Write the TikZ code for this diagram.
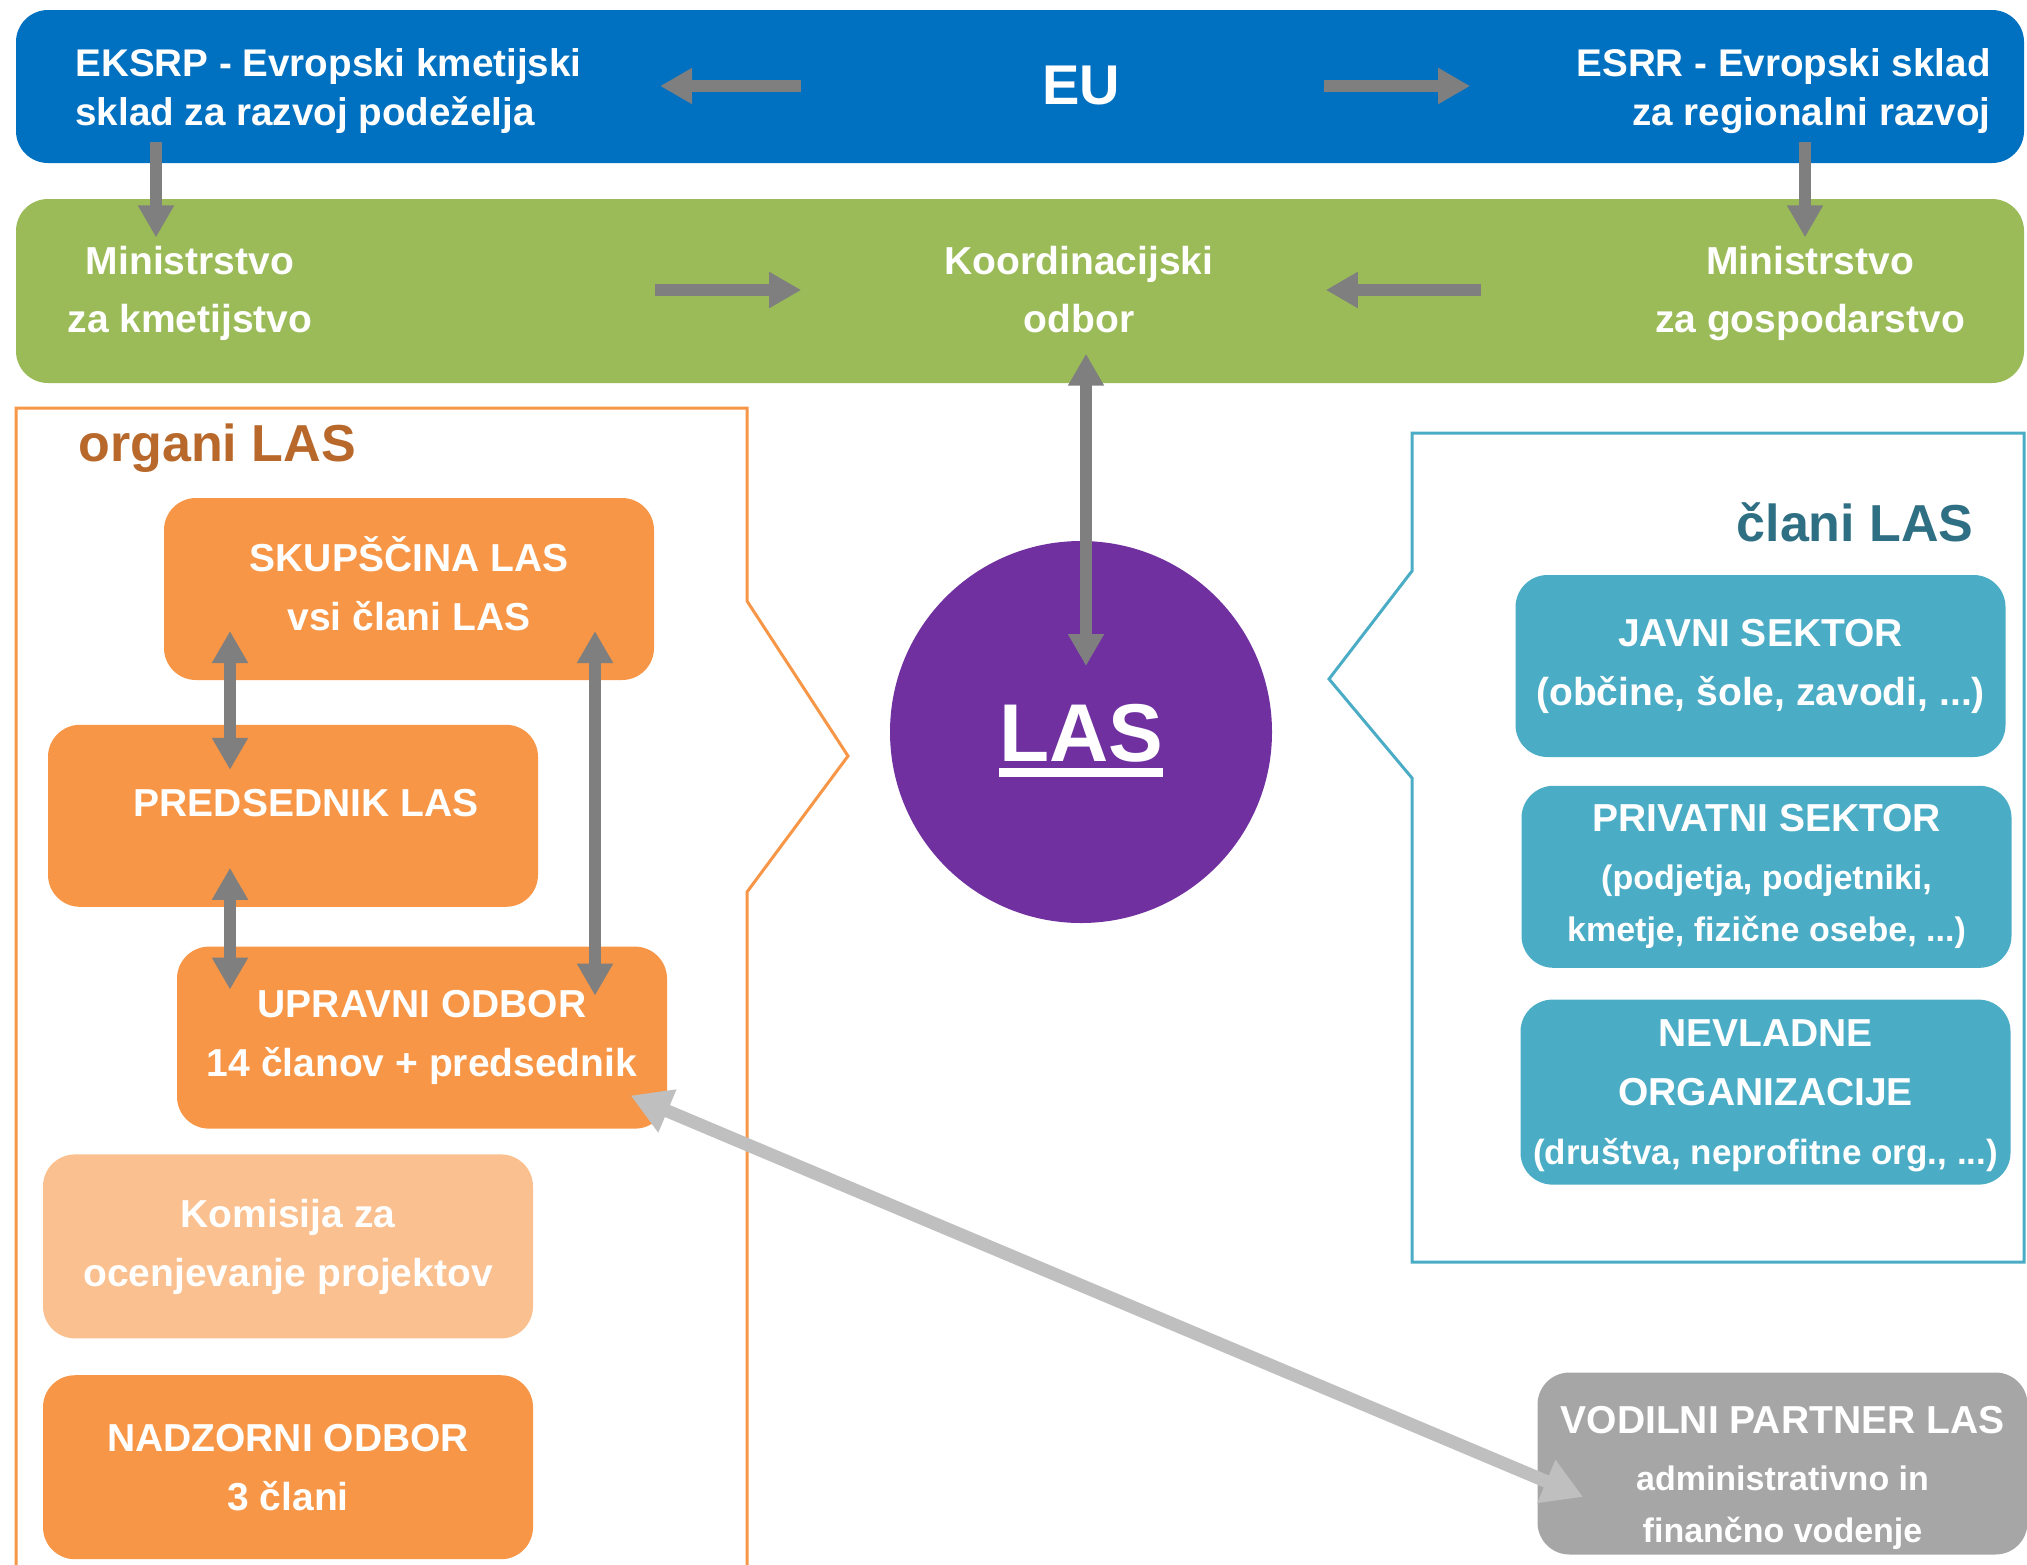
\documentclass[tikz,border=0pt]{standalone}
\usepackage{fontspec}
\setmainfont{Liberation Sans}
\usetikzlibrary{positioning, arrows.meta}
\definecolor{lasblue}{HTML}{0070C0}
\definecolor{lasgreen}{HTML}{9BBB59}
\definecolor{lasorange}{HTML}{F79646}
\definecolor{laspeach}{HTML}{FAC08F}
\definecolor{laspurple}{HTML}{7030A0}
\definecolor{lasteal}{HTML}{4BACC6}
\definecolor{lasgray}{HTML}{A6A6A6}
\definecolor{arrowgray}{HTML}{7F7F7F}
\definecolor{palegray}{HTML}{BFBFBF}
\definecolor{organcol}{HTML}{B8682A}
\definecolor{clanicol}{HTML}{2F6F84}
\tikzset{
  >={Triangle[width=17pt,length=16pt]}, % wide flat heads, as block arrows
  bar/.style={rounded corners=16pt, minimum width=1004pt, inner sep=0pt}, % the two wide bands on top
  bartext/.style={text=white, inner sep=0pt, font=\fontsize{19.5}{29}\selectfont\bfseries},
  organ/.style={fill=lasorange, rounded corners=16pt, minimum width=245pt, minimum height=91pt,
    inner sep=0pt, text=white, align=center, font=\fontsize{19.5}{29.5}\selectfont\bfseries},
  member/.style={organ, fill=lasteal}, % boxes of the members
  flow/.style={->, line width=6pt, draw=arrowgray},
  twoway/.style={<->, line width=6pt, draw=arrowgray},
  frame/.style={line width=1.5pt, line join=miter},
}

\begin{document}
\begin{tikzpicture}[x=0.5pt, y=-0.5pt]
  \useasboundingbox (0,0) rectangle (2027,1564);

  % bands
  \node[bar, fill=lasblue, minimum height=76.5pt] (eubar) at (1020,86.5) {};
  \node[bar, fill=lasgreen, minimum height=92pt] (mbar) at (1020,291) {};

  \node[bartext, font=\fontsize{28}{32}\selectfont\bfseries] (eu) at (1081,86) {EU};
  \node[bartext, font=\fontsize{19.3}{24.5}\selectfont\bfseries, anchor=west, align=left] (eksrp) at (75,91)
    {EKSRP - Evropski kmetijski\\sklad za razvoj podeželja};
  \node[bartext, font=\fontsize{19.3}{24.5}\selectfont\bfseries, anchor=east, align=right] (esrr) at (1991,91)
    {ESRR - Evropski sklad\\za regionalni razvoj};
  \node[bartext, align=center] (mkmet) at (190,293) {Ministrstvo\\za kmetijstvo};
  \node[bartext, align=center] (koord) at (1079,290) {Koordinacijski\\odbor};
  \node[bartext, align=center] (mgosp) at (1810,293) {Ministrstvo\\za gospodarstvo};

  \draw[flow, shorten <=120.5pt, shorten >=39pt] (eu) -- (eu -| eksrp.east);
  \draw[flow, shorten <=102pt, shorten >=53pt] (eu) -- (eu -| esrr.west);
  \draw[flow, shorten <=171pt, shorten >=71.5pt] (mkmet.east |- koord) -- (koord);
  \draw[flow, shorten <=87pt, shorten >=56pt] (mgosp.west |- koord) -- (koord);

  \coordinate (kdrop) at (156,0);
  \coordinate (gdrop) at (1805,0);
  \draw[flow, shorten <=4pt, shorten >=4pt] (kdrop |- eksrp.south) -- (kdrop |- mkmet.north);
  \draw[flow, shorten <=4pt, shorten >=4pt] (gdrop |- esrr.south) -- (gdrop |- mgosp.north);

  % LAS in the middle
  \node[circle, fill=laspurple, minimum size=191pt, inner sep=0pt, text=white,
    font=\fontsize{41}{45}\selectfont\bfseries] (las) at (1081,732)
    {\vtop{\hbox{\rule{0pt}{37.5pt}LAS}\kern3pt\hrule height 4.5pt}};
  \draw[twoway, shorten <=10pt, shorten >=33pt] ([xshift=2.5pt]las.center |- koord.south) -- ([xshift=2.5pt]las.center);

  % organs of LAS
  \draw[frame, draw=lasorange] (16,1570) -- (16,408) -- (747,408) -- (747,601) -- (848,756)
    -- (747,892) -- (747,1570);
  \node[anchor=west, text=organcol, inner sep=0pt, font=\fontsize{26}{30}\selectfont\bfseries] (organi) at (78,448) {organi LAS};

  \node[organ] (skup) at (409,589) {SKUPŠČINA LAS\\vsi člani LAS\rule[-5pt]{0pt}{5pt}};
  \node[organ, below=22pt of skup, xshift=-58pt, text depth=13pt] (pred) {\hspace*{13pt}PREDSEDNIK LAS};
  \node[organ, below=19.5pt of pred, xshift=64.5pt] (uprav) {UPRAVNI ODBOR\\14 članov + predsednik};
  \node[organ, fill=laspeach, minimum height=92pt, below=12.5pt of uprav, xshift=-67pt] (komis)
    {Komisija za\\ocenjevanje projektov};
  \node[organ, minimum height=92pt, below=18pt of komis] (nadz) {NADZORNI ODBOR\\3 člani};

  \coordinate (lrail) at (230,0);
  \coordinate (rrail) at (595,0);
  \draw[twoway, shorten <=21pt, shorten >=23pt] (lrail |- skup.center) -- (lrail |- pred.center);
  \draw[twoway, shorten <=26pt, shorten >=24pt] (lrail |- pred.center) -- (lrail |- uprav.center);
  \draw[twoway, shorten <=21pt, shorten >=21pt] (rrail |- skup.center) -- (rrail |- uprav.center);

  % members of LAS
  \draw[frame, draw=lasteal] (1412,433) -- (2024,433) -- (2024,1262) -- (1412,1262) -- (1412,778)
    -- (1329,679) -- (1412,571) -- cycle;
  \node[anchor=east, text=clanicol, inner sep=0pt, font=\fontsize{26}{30}\selectfont\bfseries] (clani) at (1974,522) {člani LAS};

  \node[member] (javni) at (1760.5,666) {JAVNI SEKTOR\\(občine, šole, zavodi, ...)};
  \node[member, below=14pt of javni, xshift=3pt] (priv)
    {PRIVATNI SEKTOR\\[-0.5pt]{\fontsize{17}{26}\selectfont (podjetja, podjetniki,}\\[-3.5pt]{\fontsize{17}{26}\selectfont kmetje, fizične osebe, ...)}};
  \node[member, below=15.5pt of priv, xshift=-0.5pt, minimum height=92.5pt] (nevl)
    {\rule{0pt}{17pt}NEVLADNE\\ORGANIZACIJE\\{\fontsize{17.5}{26}\selectfont (društva, neprofitne org., ...)}};

  % lead partner
  \node[organ, fill=lasgray] (vod) at (1782.5,1463.5)
    {\rule{0pt}{28pt}VODILNI PARTNER LAS\\[-1pt]{\fontsize{17}{26}\selectfont administrativno in}\\[-3.5pt]{\fontsize{17}{26}\selectfont finančno vodenje}};
  \draw[<->, line width=6.5pt, draw=palegray, >={Triangle[width=22pt,length=20pt]},
    shorten <=-20pt, shorten >=-25pt] ([yshift=9pt]uprav.south east) -- ([yshift=-7pt]vod.west);
\end{tikzpicture}
\end{document}
